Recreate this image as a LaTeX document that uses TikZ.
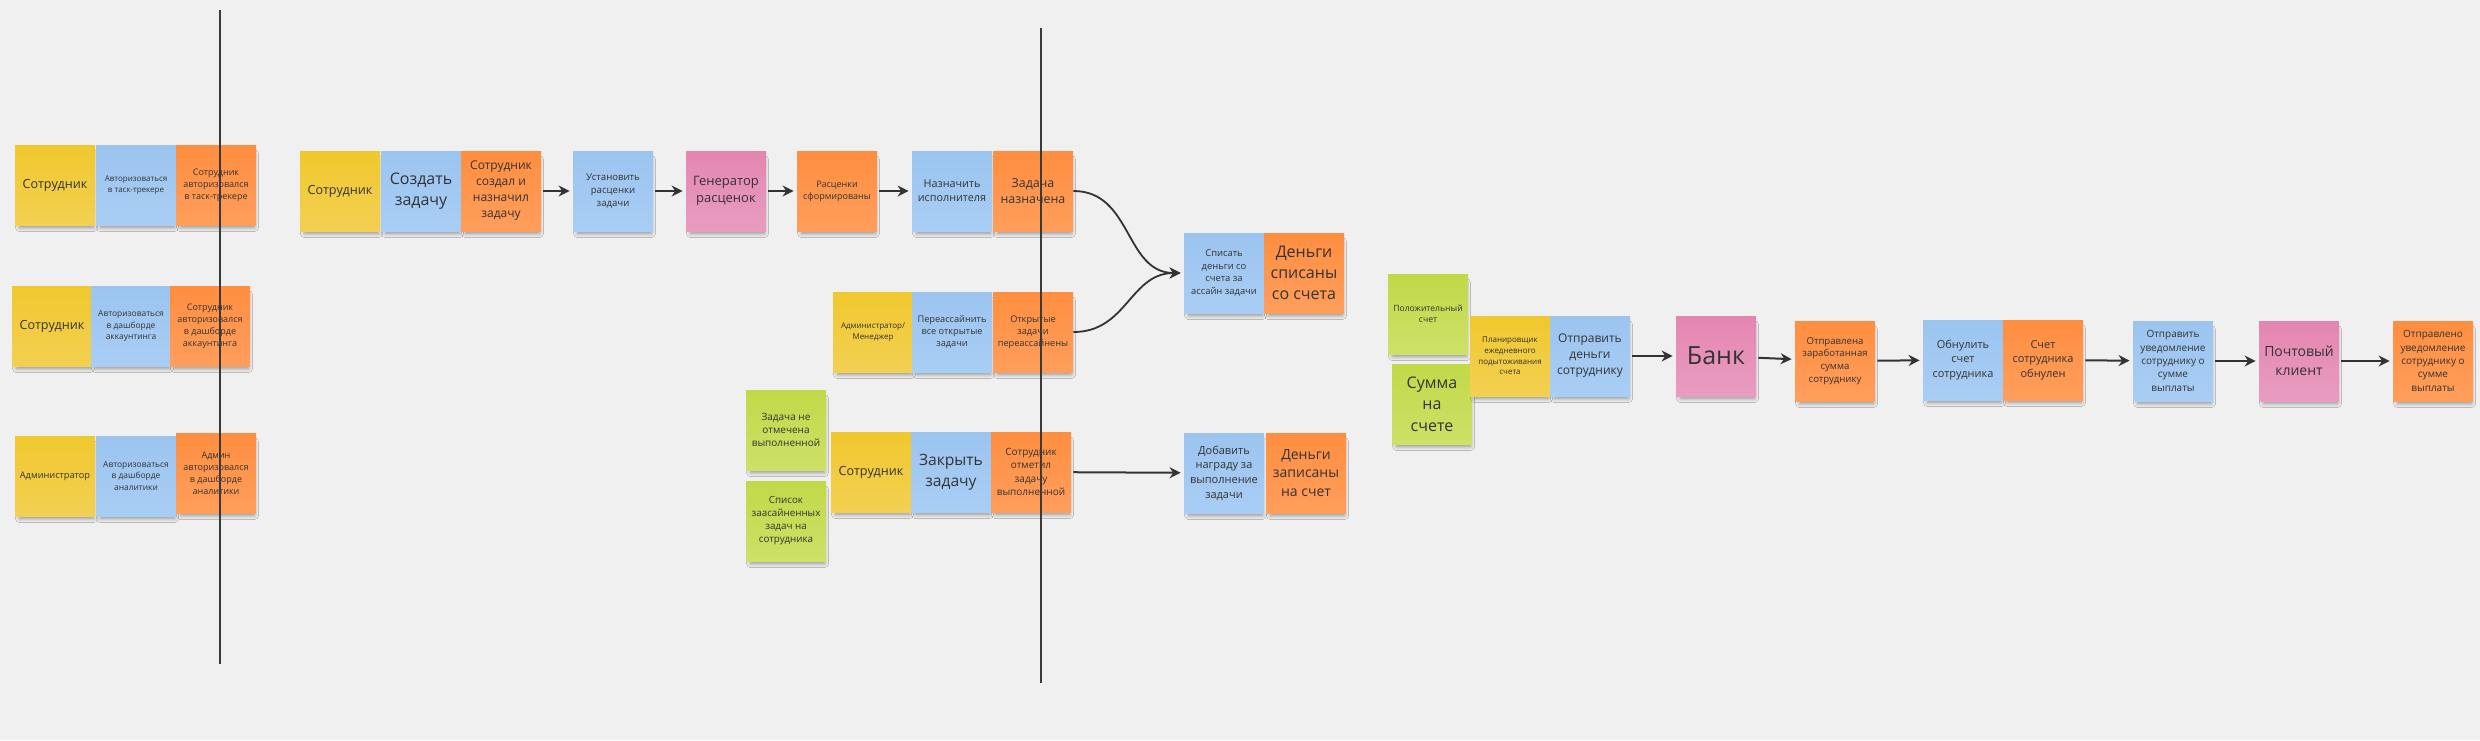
\documentclass[tikz,border=0pt]{standalone}
\usepackage{fontspec}
\setmainfont{Open Sans}
\usetikzlibrary{arrows.meta,shadows.blur}
\definecolor{bg}{HTML}{F0F0F0}
\definecolor{stYel}{HTML}{F0C82E}
\definecolor{stYelB}{HTML}{F3D052}
\definecolor{stBlue}{HTML}{9BC4EF}
\definecolor{stBlueB}{HTML}{A9CEF5}
\definecolor{stOr}{HTML}{FF8E40}
\definecolor{stOrB}{HTML}{FF9E5C}
\definecolor{stPink}{HTML}{E486B1}
\definecolor{stPinkB}{HTML}{E99CC0}
\definecolor{stGreen}{HTML}{C1D948}
\definecolor{stGreenB}{HTML}{CDE168}
\definecolor{ink}{HTML}{333333}
\definecolor{lineink}{HTML}{3A3A3A}
\tikzset{
  fs/.style={font=\fontsize{#1}{\fpeval{1.33*#1}}\selectfont},
  sticky/.style={minimum width=40pt, minimum height=40pt, inner sep=0pt,
    align=center, text=ink,
    blur shadow={shadow xshift=0.8pt, shadow yshift=-3pt, shadow opacity=38, shadow blur radius=2pt, shadow scale=0.93}},
  yel/.style={sticky, top color=stYel, bottom color=stYelB},
  blu/.style={sticky, top color=stBlue, bottom color=stBlueB},
  ora/.style={sticky, top color=stOr, bottom color=stOrB},
  pnk/.style={sticky, top color=stPink, bottom color=stPinkB},
  grn/.style={sticky, top color=stGreen, bottom color=stGreenB},
  arr/.style={draw=ink, line width=1pt, -{Stealth[length=5.5pt,width=5.5pt,inset=1.8pt]}, shorten <=1pt, shorten >=1.5pt},
  curv/.style={draw=ink, line width=0.9pt, -{Stealth[length=5.5pt,width=5.5pt,inset=1.8pt]}, shorten >=1.5pt},
  vline/.style={draw=lineink, line width=1.1pt}
}
\begin{document}
\begin{tikzpicture}[x=0.5pt, y=-0.5pt]
\useasboundingbox[fill=bg] (0,0) rectangle (2480,740);

% left column
\node[yel, fs=6.3] (r1y) at (55,185) {Сотрудник};
\node[blu, fs=4] (r1b) at (136,185) {Авторизоваться\\в таск-трекере};
\node[ora, fs=4.5] (r1o) at (216,185) {Сотрудник\\авторизовался\\в таск-трекере};

\node[yel, fs=6.3] (r2y) at (52,326) {Сотрудник};
\node[blu, fs=4.2] (r2b) at (131,326) {Авторизоваться\\в дашборде\\аккаунтинга};
\node[ora, fs=4.5] (r2o) at (210,326) {Сотрудник\\авторизовался\\в дашборде\\аккаунтинга};

\node[yel, fs=4.6] (r3y) at (55,476) {Администратор};
\node[blu, fs=4.2] (r3b) at (136,476) {Авторизоваться\\в дашборде\\аналитики};
\node[ora, fs=4.5] (r3o) at (216,473) {Админ\\авторизовался\\в дашборде\\аналитики};

% top chain
\node[yel, fs=6.3] (c1) at (340,191) {Сотрудник};
\node[blu, fs=8] (c2) at (421,191) {Создать\\задачу};
\node[ora, fs=6] (c3) at (501,191) {Сотрудник\\создал и\\назначил\\задачу};
\node[blu, fs=4.8] (c4) at (613,191) {Установить\\расценки\\задачи};
\node[pnk, fs=6.5] (c5) at (726,191) {Генератор\\расценок};
\node[ora, fs=4.5] (c6) at (837,191) {Расценки\\сформированы};
\node[blu, fs=5.4] (c7) at (952,191) {Назначить\\исполнителя};
\node[ora, fs=6.2] (c8) at (1033,191) {Задача\\назначена};

% admin/manager row
\node[yel, fs=4] (m1) at (873,332) {Администратор/\\Менеджер};
\node[blu, fs=4.6] (m2) at (952,332) {Переассайнить\\все открытые\\задачи};
\node[ora, fs=4.6] (m3) at (1033,332) {Открытые\\задачи\\переассайнены};

% close task row
\node[grn, fs=5] (g1) at (786,430) {Задача не\\отмечена\\выполненной};
\node[grn, fs=4.9] (g2) at (786,521) {Список\\заасайненных\\задач на\\сотрудника};
\node[yel, fs=6.3] (k1) at (871,472) {Сотрудник};
\node[blu, fs=7.8] (k2) at (951,472) {Закрыть\\задачу};
\node[ora, fs=5] (k3) at (1031,472) {Сотрудник\\отметил\\задачу\\выполненной};

% money
\node[blu, fs=4.7] (s1) at (1224,273) {Списать\\деньги со\\счета за\\ассайн задачи};
\node[ora, fs=8] (s2) at (1304,273) {Деньги\\списаны\\со счета};
\node[blu, fs=5.5] (d1) at (1224,473) {Добавить\\награду за\\выполнение\\задачи};
\node[ora, fs=7] (d2) at (1306,473) {Деньги\\записаны\\на счет};

% payout chain
\node[grn, fs=4.3] (p1) at (1428,314) {Положительный\\счет};
\node[grn, fs=8] (p2) at (1432,404) {Сумма\\на\\счете};
\node[yel, fs=4] (p3) at (1510,356) {Планировщик\\ежедневного\\подытоживания\\счета};
\node[blu, fs=6] (p4) at (1590,356) {Отправить\\деньги\\сотруднику};
\node[pnk, fs=12.5] (b1) at (1716,356) {Банк};
\node[ora, fs=4.8] (b2) at (1835,361) {Отправлена\\заработанная\\сумма\\сотруднику};
\node[blu, fs=5.5] (b3) at (1963,360) {Обнулить\\счет\\сотрудника};
\node[ora, fs=5.5] (b4) at (2043,360) {Счет\\сотрудника\\обнулен};
\node[blu, fs=5] (b5) at (2173,361) {Отправить\\уведомление\\сотруднику о\\сумме\\выплаты};
\node[pnk, fs=7] (b6) at (2299,361) {Почтовый\\клиент};
\node[ora, fs=5] (b7) at (2433,361) {Отправлено\\уведомление\\сотруднику о\\сумме\\выплаты};

% connectors
\draw[arr] (c3) -- (c4);
\draw[arr] (c4) -- (c5);
\draw[arr] (c5) -- (c6);
\draw[arr] (c6) -- (c7);
\draw[curv] (c8.east) to[out=0, in=180, looseness=1.1] (s1.west);
\draw[curv] (m3.east) to[out=0, in=180, looseness=1.1] (s1.west);
\draw[arr] (k3) -- (d1);
\draw[arr] (p4) -- (b1);
\draw[arr] (b1) -- (b2);
\draw[arr] (b2) -- (b3);
\draw[arr] (b4) -- (b5);
\draw[arr] (b5) -- (b6);
\draw[arr] (b6) -- (b7);

% vertical separator lines
\coordinate (v1t) at (220,10);
\coordinate (v1b) at (220,664);
\coordinate (v2t) at (1041,28);
\coordinate (v2b) at (1041,683);
\draw[vline] (v1t) -- (v1b);
\draw[vline] (v2t) -- (v2b);
\end{tikzpicture}
\end{document}
